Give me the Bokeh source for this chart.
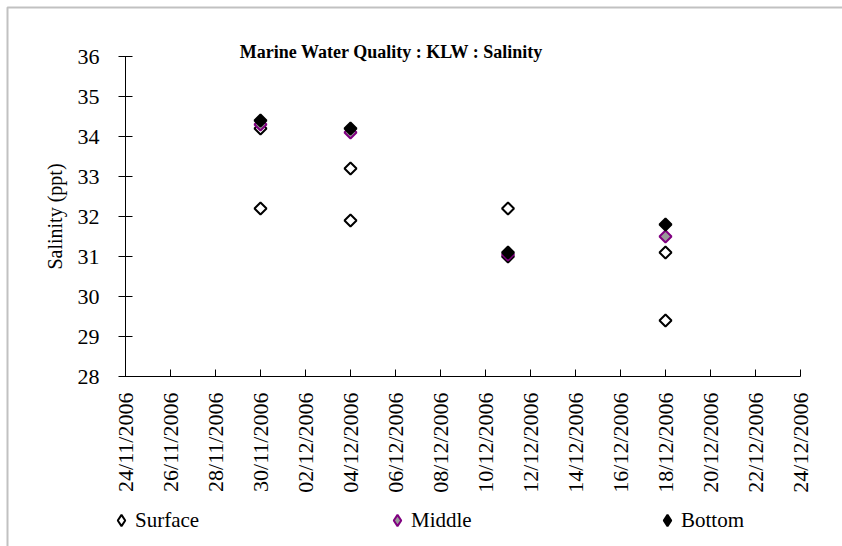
import pandas as pd
from bokeh.plotting import figure
from bokeh.models import (Range1d, FixedTicker, Legend, LegendItem, ColumnDataSource,
                          Label, BoxAnnotation)
from bokeh.embed import file_html
from bokeh.resources import INLINE

# ---- data ----
surface_dates = ["30/11/2006", "30/11/2006", "04/12/2006", "04/12/2006",
                 "11/12/2006", "11/12/2006", "18/12/2006", "18/12/2006"]
surface = [34.2, 32.2, 33.2, 31.9, 32.2, 31.0, 31.1, 29.4]
mb_dates = ["30/11/2006", "04/12/2006", "11/12/2006", "18/12/2006"]
middle = [34.3, 34.1, 31.05, 31.5]
bottom = [34.4, 34.2, 31.1, 31.8]
tick_labels = ["24/11/2006", "26/11/2006", "28/11/2006", "30/11/2006",
               "02/12/2006", "04/12/2006", "06/12/2006", "08/12/2006",
               "10/12/2006", "12/12/2006", "14/12/2006", "16/12/2006",
               "18/12/2006", "20/12/2006", "22/12/2006", "24/12/2006"]
y_ticks = [28, 29, 30, 31, 32, 33, 34, 35, 36]
y_min, y_max = 28, 36

FMT = "%d/%m/%Y"
origin = pd.to_datetime(tick_labels[0], format=FMT)


def days(lst):
    return [int((pd.to_datetime(d, format=FMT) - origin).days) for d in lst]


tick_pos = days(tick_labels)

SERIF = "Liberation Serif"
W, H = 842, 546
AX_LEFT, AX_TOP = 125, 56   # pixel position of the axes corner
PX_DAY = 22.5               # pixels per day
PX_UNIT = 40.0              # pixels per ppt
# the frame covers the whole canvas; the axes are fixed inside it
x0 = tick_pos[0] - AX_LEFT / PX_DAY
x1 = x0 + W / PX_DAY
y1 = y_max + AX_TOP / PX_UNIT
y0 = y1 - H / PX_UNIT


def px_x(px):
    return x0 + px / PX_DAY


def px_y(py):
    return y1 - py / PX_UNIT


p = figure(width=W, height=H, output_backend="svg", toolbar_location=None,
           x_range=Range1d(x0, x1), y_range=Range1d(y0, y1),
           min_border=0, min_border_left=0, min_border_right=0,
           min_border_top=0, min_border_bottom=0)
p.xgrid.visible = False
p.ygrid.visible = False
p.outline_line_color = None
p.background_fill_color = "white"
p.border_fill_color = "white"

# chart-area border (left and top edges visible)
p.add_layout(BoxAnnotation(left=px_x(7), top=px_y(7), right=x1 + 10, bottom=y0 - 10,
                           fill_color=None, fill_alpha=0,
                           line_color="#333333", line_width=2))

src_s = ColumnDataSource(dict(x=days(surface_dates), y=surface))
src_m = ColumnDataSource(dict(x=days(mb_dates), y=middle))
src_b = ColumnDataSource(dict(x=days(mb_dates), y=bottom))

ang = 0.785398
styles = [("Surface", src_s, "white", "black"),
          ("Middle", src_m, "#999999", "#800080"),
          ("Bottom", src_b, "black", "black")]
legend_renderers = []
for name, src, fc, lc in styles:
    p.scatter("x", "y", source=src, marker="square", angle=ang, size=8.5,
              fill_color=fc, line_color=lc, line_width=2)
    # key glyph used by the legend (a single NaN point, never drawn in the plot)
    legend_renderers.append(
        p.scatter("x", "y", source=ColumnDataSource(dict(x=[float("nan")], y=[float("nan")])),
                  marker="diamond", fill_color=fc, line_color=lc, line_width=2))

# axes
xa = p.xaxis[0]
xa.fixed_location = y_min
xa.bounds = (tick_pos[0], tick_pos[-1])
xa.ticker = FixedTicker(ticks=tick_pos)
xa.major_label_overrides = {t: lab for t, lab in zip(tick_pos, tick_labels)}
xa.major_label_orientation = 1.5708
xa.major_tick_in = 7
xa.major_tick_out = 0
xa.minor_tick_line_color = None
xa.major_label_standoff = 16
xa.major_label_text_font = SERIF
xa.major_label_text_font_size = "22px"
xa.major_label_text_color = "black"
xa.axis_line_color = "black"
xa.major_tick_line_color = "black"

ya = p.yaxis[0]
ya.fixed_location = tick_pos[0]
ya.bounds = (y_min, y_max)
ya.ticker = FixedTicker(ticks=y_ticks)
ya.major_tick_in = 7
ya.major_tick_out = 7
ya.minor_tick_line_color = None
ya.major_label_standoff = 19
ya.major_label_text_font = SERIF
ya.major_label_text_font_size = "22px"
ya.major_label_text_color = "black"
ya.axis_line_color = "black"
ya.major_tick_line_color = "black"
ya.axis_label = "Salinity (ppt)"
ya.axis_label_text_font = SERIF
ya.axis_label_text_font_style = "normal"
ya.axis_label_text_font_size = "20px"
ya.axis_label_text_color = "black"
ya.axis_label_standoff = 9

# title
p.add_layout(Label(x=px_x(391), y=px_y(51),
                   text="Marine Water Quality : KLW : Salinity",
                   text_align="center", text_baseline="alphabetic",
                   text_font=SERIF, text_font_style="bold", text_font_size="18px",
                   text_color="black"))

# legends (one per series, spread across the bottom)
GW = 28
for (name, _, _, _), rend, cx in zip(styles, legend_renderers, [121, 397, 667]):
    lg = Legend(items=[LegendItem(label=name, renderers=[rend])],
                location=(cx - GW // 2, H - 520 - 15),
                orientation="horizontal", border_line_color=None,
                background_fill_alpha=0, padding=0, margin=0,
                glyph_width=GW, glyph_height=30, label_standoff=0, label_height=20,
                label_text_font=SERIF, label_text_font_size="21px",
                label_text_color="black")
    p.add_layout(lg, "center")

open("out.html", "w").write(file_html(p, INLINE))
